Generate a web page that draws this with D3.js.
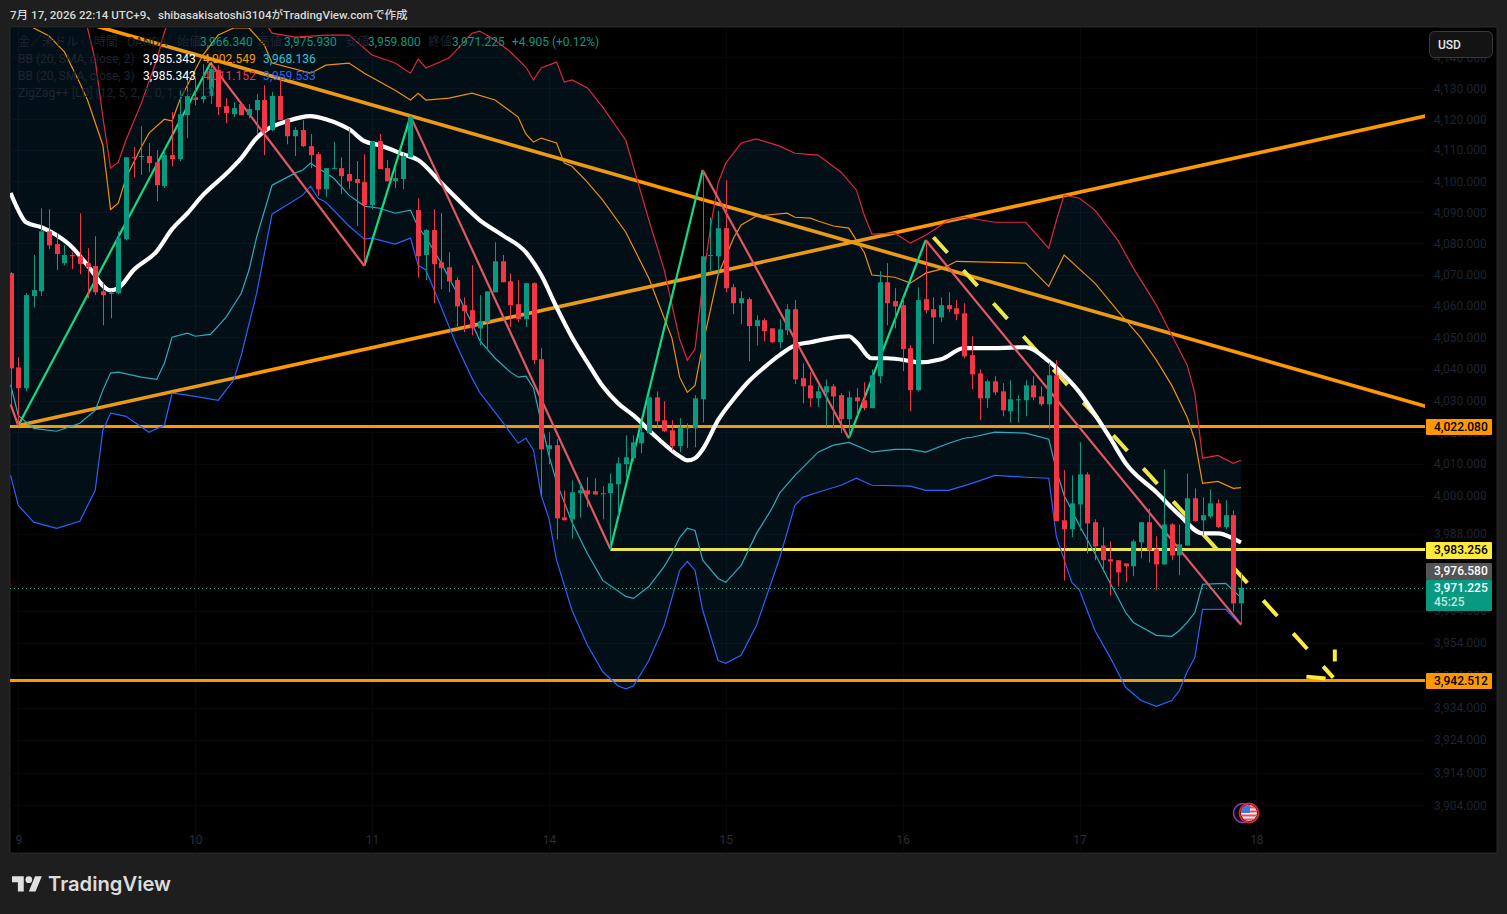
<!DOCTYPE html>
<html lang="ja">
<head>
<meta charset="utf-8">
<title>XAUUSD 1H</title>
<script src="https://cdn.jsdelivr.net/npm/d3@7/dist/d3.min.js"></script>
<style>
  html, body { margin: 0; padding: 0; background: #1e1e1e; overflow: hidden; }
  svg { display: block; font-family: Roboto, "Noto Sans CJK JP", sans-serif; }
</style>
</head>
<body>
<svg id="chart" width="1507" height="914"></svg>
<script>
// Hourly OHLC for gold / USD, oldest bar first
const opens = [4070.5,4040.5,4033.9,4063.2,4064.7,4083.9,4079.8,4073.7,4076.3,4075.9,
4073.7,4072.8,4064.7,4064.1,4064.1,4081.4,4107.7,4107.8,4108.1,4106.1,
4098.4,4108.4,4107.1,4121.3,4127.1,4126.5,4127.5,4135.9,4124.2,4121.6,
4124.9,4121.3,4122.9,4126.2,4116.5,4127.5,4120.0,4114.5,4116.5,4111.3,
4108.7,4097.4,4104.0,4104.2,4102.3,4100.7,4099.7,4092.3,4112.9,4104.2,
4100.0,4100.7,4107.7,4090.7,4076.3,4084.3,4074.0,4072.4,4068.3,4060.3,
4058.7,4052.9,4054.9,4064.4,4074.3,4067.9,4060.6,4055.8,4067.3,4043.1,
4014.6,4015.9,3993.2,3992.6,4000.8,4001.7,4001.4,4000.5,4000.8,4003.6,
4009.9,4011.8,4016.5,4019.7,4031.0,4023.8,4020.6,4015.6,4021.3,4021.2,
4030.4,4076.0,4075.9,4084.9,4066.0,4060.9,4062.2,4053.6,4055.5,4052.9,
4048.5,4052.3,4059.0,4037.1,4034.8,4030.7,4032.6,4034.5,4031.7,4024.1,
4031.0,4030.1,4027.6,4037.7,4067.6,4061.6,4060.3,4046.6,4033.3,4062.2,
4059.0,4056.4,4060.3,4059.3,4057.7,4044.4,4038.6,4030.7,4036.1,4032.9,
4026.6,4030.2,4030.1,4034.8,4031.3,4028.8,4038.0,3992.3,3989.5,3997.3,
4006.7,3991.7,3984.4,3980.1,3979.8,3978.8,3977.9,3985.4,3991.7,3983.2,
3978.5,3991.0,3981.3,3984.4,3999.2,3992.3,3993.5,3997.6,3990.2,3993.9,
3966.34];
const highs = [4070.8,4043.7,4064.1,4076.3,4091.3,4091.0,4083.3,4079.4,4077.2,4089.7,
4078.5,4082.3,4067.6,4064.7,4083.9,4107.7,4111.0,4117.7,4112.3,4110.0,
4110.0,4122.3,4129.4,4135.9,4133.3,4137.8,4138.2,4137.5,4126.8,4125.5,
4124.9,4124.9,4128.1,4131.0,4128.8,4133.6,4120.3,4117.4,4119.7,4115.2,
4109.4,4104.2,4112.6,4107.7,4117.0,4106.5,4108.7,4112.9,4115.2,4106.8,
4104.2,4109.0,4121.0,4094.5,4084.6,4091.0,4089.7,4077.2,4069.2,4062.8,
4073.0,4063.5,4064.7,4080.4,4076.3,4070.5,4068.3,4067.3,4067.6,4046.6,
4020.0,4017.8,4001.7,4004.8,4004.2,4005.8,4005.5,4003.0,4007.0,4012.1,
4019.0,4019.0,4022.5,4031.0,4032.9,4029.8,4023.8,4024.4,4022.8,4031.7,
4103.6,4088.4,4090.4,4100.3,4067.0,4064.7,4062.8,4057.1,4056.1,4052.9,
4055.8,4060.6,4061.9,4041.8,4039.0,4034.8,4036.7,4035.2,4032.3,4032.9,
4033.9,4035.8,4039.9,4071.1,4073.7,4065.7,4062.8,4047.6,4066.0,4081.1,
4062.8,4062.8,4064.4,4061.9,4060.9,4050.4,4039.9,4036.7,4037.7,4035.5,
4036.4,4031.7,4036.4,4037.7,4034.5,4042.1,4042.8,4008.0,4006.4,4016.8,
4007.4,3992.6,3990.1,3985.7,3979.8,3978.8,3986.3,3991.7,3996.0,3987.3,
4008.3,3991.4,3991.0,4007.0,4002.3,3999.5,4002.0,3998.9,3998.6,3995.4,
3975.93];
const lows = [4028.8,4022.1,4032.9,4059.6,4063.2,4078.2,4071.5,4073.0,4071.8,4070.2,
4062.5,4063.5,4053.9,4056.1,4063.8,4081.0,4101.3,4102.0,4102.9,4093.6,
4097.8,4104.8,4106.5,4113.9,4124.5,4125.2,4124.9,4121.3,4118.7,4120.7,
4121.3,4120.3,4115.2,4108.4,4116.1,4119.7,4111.9,4108.1,4111.0,4104.2,
4095.3,4095.0,4104.0,4095.8,4097.4,4085.6,4072.8,4091.0,4103.9,4100.0,
4097.8,4097.4,4107.7,4069.2,4068.3,4060.9,4065.4,4064.4,4052.9,4051.7,
4050.7,4047.5,4046.0,4064.4,4067.6,4053.3,4054.9,4053.3,4041.5,3999.8,
4009.9,3986.3,3992.3,3986.6,3993.2,3996.4,4000.4,3992.6,3983.3,3993.5,
4005.8,4010.8,4013.4,4019.7,4021.5,4020.0,4014.3,4013.7,4015.0,4015.3,
4023.1,4071.1,4070.2,4064.4,4057.4,4054.2,4042.5,4047.5,4048.8,4048.2,
4046.6,4050.7,4035.2,4029.1,4027.9,4027.9,4021.9,4021.2,4019.7,4018.1,
4025.3,4026.9,4027.6,4035.5,4053.9,4052.9,4039.3,4026.6,4032.9,4057.7,
4047.9,4054.9,4058.0,4055.5,4043.4,4033.6,4023.8,4027.6,4031.7,4025.0,
4023.1,4023.1,4025.0,4030.1,4028.2,4020.9,3992.0,3973.5,3987.0,3989.1,
3981.9,3979.8,3976.3,3968.8,3971.6,3972.9,3974.8,3980.4,3979.1,3970.4,
3978.5,3979.8,3975.1,3984.4,3992.0,3987.6,3992.9,3989.8,3989.5,3963.8,
3959.80];
const closes = [4040.2,4033.9,4063.5,4065.1,4083.9,4079.4,4076.6,4076.3,4075.9,4073.4,
4072.4,4064.4,4063.5,4064.2,4081.7,4107.7,4107.4,4108.1,4105.8,4098.7,
4108.4,4107.1,4121.6,4127.5,4126.2,4127.5,4136.2,4123.9,4122.0,4123.6,
4121.3,4123.3,4126.2,4116.1,4127.5,4119.7,4114.5,4116.5,4111.3,4108.4,
4097.4,4104.2,4104.2,4101.6,4100.0,4099.4,4092.3,4112.9,4103.9,4100.0,
4101.0,4108.1,4120.7,4075.9,4084.3,4073.4,4072.1,4067.9,4059.9,4058.4,
4052.9,4055.2,4064.7,4074.3,4067.6,4060.3,4055.8,4067.3,4042.8,4014.6,
4015.9,3992.9,3992.3,4001.1,4001.7,4000.4,4000.4,4000.8,4003.9,4010.2,
4012.1,4016.8,4020.0,4031.0,4023.4,4020.3,4015.6,4021.5,4021.5,4030.7,
4075.9,4076.3,4084.9,4065.7,4060.9,4062.5,4053.6,4055.5,4052.0,4048.5,
4052.6,4059.0,4036.7,4034.5,4030.7,4032.9,4034.5,4031.3,4024.1,4031.0,
4029.8,4027.6,4038.0,4067.6,4060.9,4059.9,4046.3,4033.3,4061.9,4058.7,
4056.4,4060.3,4059.0,4057.4,4044.0,4038.3,4030.7,4036.1,4032.6,4026.9,
4030.4,4030.4,4034.8,4031.0,4028.8,4038.0,3992.0,3989.5,3997.6,4006.7,
3991.3,3984.1,3979.8,3979.4,3976.0,3977.9,3985.7,3991.7,3982.9,3978.5,
3991.0,3981.3,3984.8,3999.2,3992.0,3993.9,3997.6,3990.2,3993.9,3966.32,
3971.225];

// Bollinger vertices as [bar, price]
const basis = [[0,4096.2],[1,4090.7],[2,4086.8],[4,4085.2],[6,4082.6],[8,4078.8],[10,4073],[13,4065],[14,4065.7],[16,4071.5],[19,4077.5],[21,4084.6],[23,4089.7],[25,4095.5],[28,4102.3],[30,4107.4],[32,4113.9],[33,4116.1],[36,4119.4],[39,4121],[41,4120],[43,4118.1],[44,4116.8],[46,4112.9],[48,4111.6],[51,4108.7],[53,4106.8],[56,4099.4],[58,4094.5],[61,4087.5],[64,4082.6],[67,4077.2],[69,4069.9],[71,4059.6],[73,4050.1],[75,4042.1],[77,4034.5],[79,4029.1],[81,4025.3],[84,4018.4],[87,4012.4],[88,4011.1],[89,4011.8],[90,4014.6],[92,4023.8],[94,4030.4],[96,4036.1],[98,4040.5],[100,4044.4],[102,4047.5],[104,4048.5],[106,4049.5],[109,4050.4],[110,4048.5],[112,4043.4],[114,4043.4],[117,4042.5],[118,4042.1],[121,4043.1],[124,4046.6],[128,4046.6],[132,4046.9],[135,4042.5],[137,4038],[139,4032.6],[141,4025.6],[143,4018.1],[145,4010.2],[149,4001.1],[152,3993.9],[155,3988.2],[157,3988.2],[159,3986.6],[160,3985.343]];
const upper2 = [[0,4157],[3,4149.6],[5,4147],[7,4141.8],[9,4131.7],[10,4126.2],[12,4111.6],[13,4090.9],[14,4092.9],[15,4101],[17,4111],[18,4115.5],[20,4120],[21,4119.4],[22,4126.2],[23,4131],[25,4140.8],[27,4147.3],[29,4149.6],[31,4149.6],[33,4144],[34,4138.2],[39,4134.9],[41,4137.5],[44,4138.2],[46,4134.9],[50,4129.4],[52,4126.2],[53,4128.4],[54,4126.2],[57,4126.8],[60,4128.4],[63,4126.2],[66,4120.7],[67,4115.2],[68,4112.6],[69,4113.9],[71,4112.3],[72,4105.8],[73,4104.8],[75,4099.7],[77,4093.9],[80,4083.6],[83,4068.9],[85,4056.1],[86,4049.8],[87,4037.4],[88,4032.6],[89,4034.8],[90,4047.6],[92,4069.9],[94,4081.7],[95,4085.9],[97,4088.8],[101,4089.7],[102,4088.4],[104,4088.1],[105,4087.2],[107,4085.6],[109,4084.9],[110,4081],[111,4077.2],[112,4069.9],[115,4069.2],[117,4067.3],[119,4070.5],[121,4071.8],[123,4074.3],[132,4073.7],[135,4066.3],[137,4076.3],[139,4071.8],[141,4067.3],[144,4058.4],[147,4049.8],[149,4042.8],[151,4034.8],[153,4024.7],[154,4017.5],[155,4003.9],[157,4004.5],[159,4002.3],[160,4002.549]];
const lower2 = [[0,4035],[1,4025.3],[3,4021.2],[6,4020.3],[9,4022.8],[11,4026.9],[12,4033.3],[13,4038.7],[14,4039],[17,4037.4],[19,4036.7],[20,4041.8],[21,4050.1],[23,4051.4],[24,4050.4],[26,4051],[28,4056.4],[30,4064.1],[31,4071.5],[32,4082.1],[34,4098.7],[37,4102.6],[38,4103.6],[39,4105.8],[42,4101],[44,4095.5],[46,4092],[48,4091.3],[50,4089.7],[52,4090.7],[53,4085.2],[54,4082],[56,4073.7],[58,4064.4],[60,4054.5],[61,4049.1],[63,4043.4],[65,4039],[66,4037.4],[67,4037.7],[68,4033.9],[69,4023.1],[70,4012.7],[71,4004.2],[73,3991.7],[75,3981.9],[77,3973.5],[80,3968.5],[81,3967.9],[83,3971.6],[85,3977.9],[86,3981.9],[87,3986.9],[88,3989.8],[89,3989.1],[90,3979.8],[92,3974.1],[93,3972.9],[95,3978.2],[97,3988.2],[99,3996],[100,4000.8],[102,4006.4],[105,4013.7],[107,4015.9],[109,4016.8],[112,4013.7],[115,4014.6],[117,4014.6],[119,4013.7],[122,4016.5],[124,4018.1],[125,4018.4],[128,4020],[132,4019.7],[135,4017.8],[136,4008],[137,4000.1],[139,3990.6],[141,3981.9],[143,3972.6],[145,3963.5],[146,3960.4],[149,3956.4],[151,3956.1],[152,3957.9],[153,3960.4],[154,3963.5],[155,3972.3],[158,3972.6],[160,3968.136]];
const upper3 = [[0,4178.4],[5,4167],[10,4149.6],[11,4139.2],[12,4120.7],[13,4104.2],[14,4106.1],[15,4113.2],[17,4125.2],[19,4139.2],[20,4148.3],[22,4160.3],[27,4165.2],[32,4155.4],[34,4147.9],[37,4146.6],[41,4147.3],[44,4147.3],[47,4140.8],[50,4138.2],[52,4134.9],[53,4139.5],[54,4136.6],[57,4139.8],[60,4147.9],[61,4148.6],[63,4145.7],[65,4141.8],[67,4136.9],[68,4132.7],[69,4136.6],[71,4138.5],[72,4132],[73,4132.7],[75,4130.1],[77,4123.9],[80,4113.2],[83,4087.5],[85,4071.5],[87,4049.5],[88,4042.8],[89,4046.3],[90,4067.3],[91,4084.9],[92,4099.4],[93,4105.8],[95,4112.3],[97,4113.6],[100,4111.3],[102,4109],[105,4108.4],[108,4102.9],[110,4097.1],[111,4089.1],[112,4083],[115,4083.3],[117,4080.1],[119,4082.6],[122,4087.5],[124,4088.4],[128,4086.8],[132,4086.8],[135,4078.5],[136,4087.5],[137,4095.5],[139,4094.5],[141,4090.7],[144,4081],[146,4072.1],[149,4060.3],[151,4050.7],[153,4041.2],[154,4032.3],[155,4011.8],[157,4012.7],[159,4010.2],[160,4011.152]];
const lower3 = [[0,4006.4],[1,3997],[3,3991.7],[6,3989.8],[9,3992],[11,4001.7],[12,4020.6],[13,4026],[15,4025],[18,4020],[20,4022.2],[21,4032.3],[23,4031.7],[27,4030.1],[29,4036.4],[30,4044.4],[32,4064.1],[34,4089.4],[38,4095.5],[39,4098.4],[40,4094.5],[41,4093.2],[44,4085.6],[46,4081.4],[47,4081.7],[50,4079.8],[52,4081.7],[53,4073],[54,4071.5],[56,4059.6],[58,4047.5],[60,4037.1],[61,4032.6],[64,4023.1],[66,4016.5],[67,4018.1],[68,4014.3],[69,4000.1],[70,3992.9],[71,3979.8],[73,3964.2],[75,3953.4],[77,3945.1],[79,3940.7],[80,3939.8],[81,3940.7],[83,3948.6],[85,3959.5],[87,3976.6],[88,3979.4],[89,3976.6],[90,3964.2],[92,3948.6],[93,3947.7],[95,3950.2],[97,3959.5],[100,3980.4],[102,3997],[103,3999.5],[105,4001.1],[108,4003.3],[110,4005.5],[112,4003.3],[117,4003],[119,4001.7],[122,4001.7],[125,4003.9],[128,4006.4],[132,4005.8],[135,4005.5],[136,3987],[138,3972.9],[139,3970.4],[141,3957.9],[143,3949.5],[145,3940.3],[147,3936.2],[149,3934.4],[151,3936.2],[152,3939.3],[153,3945.1],[154,3949.5],[155,3964.5],[158,3964.5],[160,3959.533]];

// ZigZag pivots
const zigzag = [[0,4028.8],[1,4022.1],[26,4138.2],[46,4072.8],[52,4121.0],[78,3983.3],[90,4103.6],[109,4018.1],[119,4081.1],[160,3959.8]];

// Hand-drawn levels and trend lines
const supportLevels = [4022.08, 3942.512];
const pivotLevel = { fromBar: 78, price: 3983.256 };
const fallingTrend = [[0,4158.2],[184,4028.2]];
const risingTrend = [[1,4022.1],[184,4121.0]];
const forecastPath = [[120,4082.0],[172,3943.3]];
const forecastHeadA = [[168.5,3943.6],[171,3943.0]];
const forecastHeadB = [[172.2,3948.3],[172.2,3952.0]];

// Axis contents
const priceTicks = [4140,4130,4120,4110,4100,4090,4080,4070,4060,4050,4040,4030,4020,4010,4000,3988,3964,3954,3944,3934,3924,3914,3904];
const dayBars = [1,24,47,70,93,116,139,162];
const dayLabels = ["9","10","11","14","15","16","17","18"];
const previousPriceTag = 3976.580;
const countdown = "45:25";
const changeText = "+4.905 (+0.12%)";

const GREEN = "#089981", RED = "#f23645", ORANGE = "#ff9800", YELLOW = "#ffeb3b",
      BLUE = "#2962ff", DIM = "#1f2430";

const svg = d3.select("#chart");
const plot = { left: 10, top: 28, right: 1425, bottom: 853, outer: 1497 };

const x = d3.scaleLinear().domain([0, 160]).range([10.6, 1241]);
const y = d3.scaleLog().domain([4130, 3904]).range([88.3, 805.2]);
const fmt = d3.format(",.3f");

const defs = svg.append("defs");
svg.append("rect").attr("x", plot.left).attr("y", plot.top - 1)
  .attr("width", plot.outer - plot.left).attr("height", plot.bottom - plot.top + 1)
  .attr("fill", "#000").attr("stroke", "#2b2b2b");

defs.append("clipPath").attr("id", "pane")
  .append("rect").attr("x", plot.left).attr("y", plot.top)
  .attr("width", plot.right - plot.left).attr("height", plot.bottom - plot.top);

// Faint grid
const grid = svg.append("g").attr("stroke", "#08080a").attr("stroke-width", 1);
priceTicks.forEach(p => grid.append("line").attr("x1", plot.left).attr("x2", plot.right)
  .attr("y1", Math.round(y(p)) + .5).attr("y2", Math.round(y(p)) + .5));
dayBars.forEach(b => grid.append("line").attr("y1", plot.top).attr("y2", plot.bottom)
  .attr("x1", Math.round(x(b)) + .5).attr("x2", Math.round(x(b)) + .5));

const pane = svg.append("g").attr("clip-path", "url(#pane)");
const line = d3.line().x(d => x(d[0])).y(d => y(d[1]));

// Trend lines and levels; horizontal levels sit on whole pixels
const snap = v => Math.round(v) + 0.5;
const drawings = pane.append("g").attr("fill", "none");
[fallingTrend, risingTrend].forEach(t => drawings.append("path").attr("d", line(t))
  .attr("stroke", ORANGE).attr("stroke-width", 3.6));
supportLevels.forEach(p => drawings.append("line")
  .attr("x1", plot.left).attr("x2", plot.right).attr("y1", snap(y(p))).attr("y2", snap(y(p)))
  .attr("stroke", ORANGE).attr("stroke-width", 3));
drawings.append("line")
  .attr("x1", x(pivotLevel.fromBar)).attr("x2", plot.right)
  .attr("y1", snap(y(pivotLevel.price))).attr("y2", snap(y(pivotLevel.price)))
  .attr("stroke", YELLOW).attr("stroke-width", 3);
drawings.append("path").attr("d", line(forecastPath))
  .attr("stroke", YELLOW).attr("stroke-width", 4).attr("stroke-dasharray", "21 23.6");
[forecastHeadA, forecastHeadB].forEach(t => drawings.append("path").attr("d", line(t))
  .attr("stroke", YELLOW).attr("stroke-width", 4));

// Band fill between the outer envelopes
pane.append("path")
  .attr("d", line(upper3.concat(lower3.slice().reverse())) + "Z")
  .attr("fill", "#28aafa").attr("fill-opacity", 0.085);

// Envelope lines
const bands = pane.append("g").attr("fill", "none").attr("stroke-width", 1.2);
[[upper3, "#e0273d"], [upper2, "#f09000"], [lower2, "#2aaebf"], [lower3, BLUE]].forEach(([s, c]) =>
  bands.append("path").attr("d", line(s)).attr("stroke", c));

// Moving average
pane.append("path")
  .attr("d", d3.line().x(d => x(d[0])).y(d => y(d[1])).curve(d3.curveMonotoneX)(basis))
  .attr("fill", "none").attr("stroke", "#fff").attr("stroke-width", 4.2)
  .attr("stroke-linejoin", "round");

// ZigZag legs coloured by direction
const legs = d3.pairs(zigzag);
pane.append("g").attr("fill", "none").selectAll("path").data(legs).join("path")
  .attr("d", d => line(d))
  .attr("stroke", d => d[1][1] > d[0][1] ? "#0fdc85" : "#e25864")
  .attr("stroke-width", 2.2);

// Candles
const bars = d3.range(opens.length);
const cx = i => Math.round(x(i));
const colour = i => closes[i] >= opens[i] ? GREEN : RED;
const candles = pane.append("g");
candles.selectAll("rect.wick").data(bars).join("rect").attr("class", "wick")
  .attr("x", cx).attr("width", 1)
  .attr("y", i => y(highs[i])).attr("height", i => Math.max(1, y(lows[i]) - y(highs[i])))
  .attr("fill", colour);
candles.selectAll("rect.body").data(bars).join("rect").attr("class", "body")
  .attr("x", i => cx(i) - 2).attr("width", 5)
  .attr("y", i => y(Math.max(opens[i], closes[i])))
  .attr("height", i => Math.max(1, y(Math.min(opens[i], closes[i])) - y(Math.max(opens[i], closes[i]))))
  .attr("fill", colour);

// Last price marker
const last = closes.length - 1;
svg.append("line").attr("x1", plot.left).attr("x2", plot.right)
  .attr("y1", Math.round(y(closes[last])) + .5).attr("y2", Math.round(y(closes[last])) + .5)
  .attr("stroke", "#0bb095").attr("stroke-width", 1).attr("stroke-dasharray", "1 3");

// Axes
const priceAxis = svg.append("g").attr("transform", "translate(1434,0)")
  .call(d3.axisRight(y).tickValues(priceTicks).tickFormat(fmt).tickSize(0).tickPadding(0));
priceAxis.select(".domain").remove();
priceAxis.selectAll("text").attr("fill", DIM).attr("font-size", 12)
  .attr("font-family", "Roboto, sans-serif");

const timeAxis = svg.append("g").attr("transform", "translate(0,835)")
  .call(d3.axisBottom(x).tickValues(dayBars).tickFormat((d, i) => dayLabels[i]).tickSize(0).tickPadding(0));
timeAxis.select(".domain").remove();
timeAxis.selectAll("text").attr("fill", "#2a2e39").attr("font-size", 12)
  .attr("font-family", "Roboto, sans-serif");

// Price tags on the right scale
function tag(price, fill, textFill, top, height) {
  svg.append("rect").attr("x", 1426).attr("y", top).attr("width", 66).attr("height", height)
    .attr("fill", fill).attr("rx", 1);
  svg.append("text").attr("x", 1434).attr("y", top + 12).attr("font-size", 12)
    .attr("font-weight", 500).attr("fill", textFill).text(fmt(price));
}
supportLevels.forEach(p => tag(p, ORANGE, "#000", Math.round(y(p)) - 7, 16));
tag(pivotLevel.price, YELLOW, "#000", Math.round(y(pivotLevel.price)) - 7, 17);
tag(previousPriceTag, "#555", "#fff", 563, 17);
tag(closes[last], GREEN, "#fff", 580, 31);
svg.append("text").attr("x", 1434).attr("y", 606).attr("font-size", 12)
  .attr("font-weight", 500).attr("fill", "#c4e6df").text(countdown);

// Currency button
svg.append("rect").attr("x", 1429.5).attr("y", 31.5).attr("width", 63).attr("height", 26)
  .attr("rx", 5).attr("fill", "#131313").attr("stroke", "#3a3a3a");
svg.append("text").attr("x", 1438).attr("y", 48.5).attr("font-size", 12)
  .attr("font-weight", 500).attr("fill", "#e6e6e6").text("USD");

// Indicator legend
const legend = svg.append("g").attr("font-size", 12);
const put = (xp, yp, text, fill) => legend.append("text").attr("x", xp).attr("y", yp).attr("fill", fill).text(text);
put(18, 46, "金／米ドル · 1時間 · OANDA", DIM);
put(177, 46, "始値", DIM);
put(200, 46, fmt(opens[last]), GREEN);
put(258, 46, "高値", DIM);
put(284, 46, fmt(highs[last]), GREEN);
put(345, 46, "安値", DIM);
put(368, 46, fmt(lows[last]), GREEN);
put(428, 46, "終値", DIM);
put(452, 46, fmt(closes[last]), GREEN);
put(512, 46, changeText, GREEN);
put(18, 63, "BB (20, SMA, close, 2)", DIM);
put(143, 63, fmt(basis[basis.length - 1][1]), "#fff");
put(203, 63, fmt(upper2[upper2.length - 1][1]), ORANGE);
put(263, 63, fmt(lower2[lower2.length - 1][1]), "#26c6da");
put(18, 80, "BB (20, SMA, close, 3)", DIM);
put(143, 80, fmt(basis[basis.length - 1][1]), "#fff");
put(203, 80, fmt(upper3[upper3.length - 1][1]), RED);
put(263, 80, fmt(lower3[lower3.length - 1][1]), BLUE);
put(18, 97, "ZigZag++ [LD] (12, 5, 2, 2, 0, 1, 24, 13)", DIM);

// Economic event badge
svg.append("circle").attr("cx", 1243).attr("cy", 813).attr("r", 9.5)
  .attr("fill", "#0a0a0a").attr("stroke", "#8e3bb5").attr("stroke-width", 1.5);
const badge = svg.append("g").attr("transform", "translate(1249,813)");
defs.append("clipPath").attr("id", "flagClip").append("circle").attr("r", 8);
const flag = badge.append("g").attr("clip-path", "url(#flagClip)");
flag.append("rect").attr("x", -8).attr("y", -8).attr("width", 16).attr("height", 16).attr("fill", "#f5f5f5");
d3.range(4).forEach(k => flag.append("rect").attr("x", -8).attr("y", -6.5 + k * 4)
  .attr("width", 16).attr("height", 2).attr("fill", "#ef4d50"));
flag.append("rect").attr("x", -8).attr("y", -8).attr("width", 9).attr("height", 8).attr("fill", "#3f78d8");
badge.append("circle").attr("r", 9.5).attr("fill", "none").attr("stroke", "#e3222c").attr("stroke-width", 1.8);

// Header and logo
svg.append("text").attr("x", 10).attr("y", 19).attr("font-size", 11.6).attr("font-weight", 500)
  .attr("fill", "#d8d8d8").text("7月 17, 2026 22:14 UTC+9、shibasakisatoshi3104がTradingView.comで作成");
const logo = svg.append("g").attr("transform", "translate(12,873) scale(0.84)").attr("fill", "#e0e0e0");
logo.append("path").attr("d", "M14 22H7V11H0V4h14v18zM28 22h-8l7.5-18h8L28 22z");
logo.append("circle").attr("cx", 20).attr("cy", 8).attr("r", 4);
svg.append("text").attr("x", 48).attr("y", 891).attr("font-size", 20.2).attr("font-weight", 600)
  .attr("font-family", "Inter, Roboto, sans-serif").attr("fill", "#dcdcdc").text("TradingView");
</script>
</body>
</html>
